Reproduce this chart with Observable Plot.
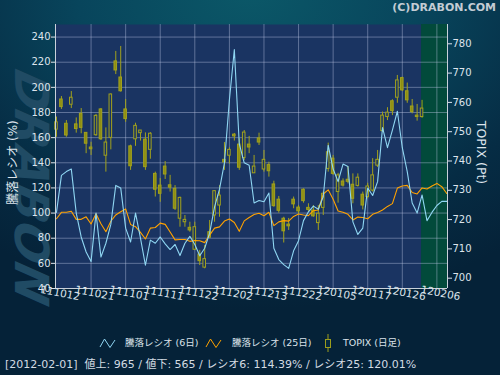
<!DOCTYPE html>
<html><head><meta charset="utf-8">
<script src="https://cdn.jsdelivr.net/npm/d3@7"></script>
<script src="https://cdn.jsdelivr.net/npm/@observablehq/plot@0.6"></script>
<style>
html,body{margin:0;padding:0;}
body{width:500px;height:375px;overflow:hidden;background:#062338;}
#wrap{position:relative;width:500px;height:375px;overflow:hidden;
 background: radial-gradient(ellipse 430px 320px at 250px -10px, #0b5868 0%, #08455c 40%, #062c44 75%, #052238 100%);
 font-family:"DejaVu Sans","Noto Sans CJK JP",sans-serif;color:#dbe3ea;}
#wm{position:absolute;left:31px;top:188px;transform:translate(-50%,-50%) rotate(90deg) skewX(-14deg);
 font:italic bold 47px "DejaVu Sans";color:#204b64;letter-spacing:1px;white-space:nowrap;}
#chart{position:absolute;left:0;top:0;}
#copy{position:absolute;right:4px;top:1px;font:bold 11px "DejaVu Sans";color:#c3ccd4;}
.leg{position:absolute;top:337px;font-size:9.5px;line-height:12px;color:#dbe3ea;white-space:nowrap;font-family:"DejaVu Sans","Noto Sans CJK JP",sans-serif;}
.ico{position:absolute;}
#foot{position:absolute;left:5px;top:358px;font-size:11px;line-height:14px;white-space:pre;color:#d3dbe3;font-family:"DejaVu Sans","Noto Sans CJK JP",sans-serif;}
</style></head>
<body>
<div id="wrap">
 <div id="wm">DRABON</div>
 <div id="chart"></div>
 <div id="copy">(C)DRABON.COM</div>
 <svg class="ico" style="left:99px;top:337px" width="17" height="12"><polyline points="1,10 5.5,2 11,10.5 16,3" fill="none" stroke="#8fd6f2" stroke-width="1"/></svg>
 <div class="leg" style="left:125px">騰落レシオ (6日)</div>
 <svg class="ico" style="left:205px;top:337px" width="17" height="12"><polyline points="1,10 5.5,2 11,10.5 16,3" fill="none" stroke="#ffa200" stroke-width="1"/></svg>
 <div class="leg" style="left:232px">騰落レシオ (25日)</div>
 <svg class="ico" style="left:322px;top:334px" width="12" height="19"><line x1="6" y1="0" x2="6" y2="18" stroke="#9d9d1c"/><rect x="3.5" y="5.5" width="5" height="8" fill="#062a40" stroke="#9d9d1c"/></svg>
 <div class="leg" style="left:343px">TOPIX (日足)</div>
 <div id="foot">[2012-02-01]  値上: 965 / 値下: 565 / レシオ6: 114.39% / レシオ25: 120.01%</div>
</div>
<script>
const leftTicks = [40,60,80,100,120,140,160,180,200,220,240];
const topixTicks = [700,710,720,730,740,750,760,770,780];
const tickIndex = [0,7,14,21,28,35,42,49,56,63,70,77];
const tickLabels = ["111012","111021","111101","111111","111122","111202","111213","111222","120105","120117","120126","120206"];

const topixOpen  = [750.7,761.0,752.7,759.2,752.5,756.1,749.6,744.6,748.8,757.6,741.8,747.9,774.0,768.5,757.6,745.0,747.4,749.5,747.3,743.8,735.6,731.6,738.1,731.7,730.5,720.3,719.1,717.2,709.7,708.1,703.6,715.7,721.4,724.8,740.4,741.8,749.0,745.6,741.0,745.6,735.8,747.7,737.1,738.6,732.0,726.8,720.3,718.3,726.8,724.1,730.2,724.0,723.1,718.8,724.0,737.3,740.8,729.4,733.0,733.6,731.9,731.5,728.5,727.7,729.9,738.4,750.2,755.0,760.4,761.6,768.3,763.8,758.6,755.5,755.0];
const topixHigh  = [755.0,762.0,753.8,763.7,754.7,757.9,749.6,746.4,755.9,757.9,751.3,762.9,777.4,779.1,761.0,745.4,752.9,750.4,749.6,749.7,736.2,734.0,739.8,735.1,731.6,727.7,721.4,719.1,719.1,709.5,711.2,719.7,729.9,731.6,746.3,744.5,749.4,747.6,750.4,748.4,741.9,749.5,743.6,739.6,733.1,727.9,720.8,720.4,727.7,724.8,730.5,725.4,724.8,724.8,729.4,746.1,741.9,735.8,733.9,738.1,735.6,735.6,729.4,732.4,740.8,743.6,756.7,758.2,760.9,769.2,768.6,766.6,761.0,759.3,760.7];
const topixLow   = [748.1,757.6,748.1,757.9,749.5,749.3,742.5,741.9,748.4,747.0,736.2,743.8,769.5,763.5,753.2,736.8,745.0,746.8,736.8,740.6,727.7,725.9,733.7,729.4,723.1,717.4,717.4,715.7,709.5,704.3,703.2,713.5,719.1,720.8,736.8,739.0,746.8,736.8,740.2,742.5,735.8,745.3,736.2,734.5,724.2,722.2,712.0,716.3,723.7,722.0,725.6,722.5,720.8,716.3,721.4,736.2,735.1,725.6,731.1,732.2,725.4,731.1,723.3,727.1,729.4,737.8,749.8,753.8,755.5,759.7,763.7,759.7,756.1,753.6,754.6];
const topixClose = [753.2,758.4,748.7,761.6,750.9,751.3,745.9,744.0,755.4,747.4,746.3,762.7,770.9,763.8,754.3,738.2,752.0,750.4,737.9,749.3,730.2,728.8,735.4,730.9,723.7,727.4,719.9,716.3,717.4,705.8,706.5,713.8,729.7,728.2,739.5,743.8,748.4,737.7,749.7,744.6,738.1,746.3,740.4,736.5,724.6,723.0,716.0,717.7,725.2,722.8,726.3,723.3,721.1,722.0,728.8,743.0,735.6,735.1,731.6,732.9,727.1,734.3,724.8,731.3,735.1,740.4,755.5,756.5,757.0,767.5,764.1,760.7,756.7,755.0,757.9];

const ratio6  = [100.5,130,133,135,100,81,69,61.4,100,65,76,91,122,120,88,77,100,80,58.5,78.5,76,81,75.5,71,75,66.2,76,81.5,75,66,72,84,105,119,140,190,230,155,140,138,108,110,109,116,72,63,59,56,70,78,94,101,105.5,103,113,154,135,125,139,137,93,83,88,120,114,125,168,152,166,181,152,133,108,100,114.4,94,100.5,106,109.3,109.3];
const ratio25 = [95.5,100.6,100.6,101.4,95,95,97,91.3,99.5,91.5,85.2,93.5,98.5,101,103.3,91,89.2,84.7,79.4,88,88.5,92,91,85,78.7,79,79,77.5,78.1,78,76.5,82.5,88,89,93.6,95.3,92.5,85.5,93.8,96.5,98.8,99.8,97.9,100.6,90,93,94,93.6,97.3,99.2,98.5,98,101.9,102.5,115.2,118.5,111,101.6,100.7,99,94.5,96.8,96.5,95.5,99,100.4,102.5,105.3,107.5,119.9,121.5,122,116.4,115.2,120,119.1,121.6,123.6,121,115.6];

const yDomain = [40, 250];
const topixDomain = [696.48, 786.59];
const xDomain = [-0.2, 79.15];
const toLeft = t => yDomain[0] + (t - topixDomain[0]) / (topixDomain[1] - topixDomain[0]) * (yDomain[1] - yDomain[0]);
const fromLeft = v => topixDomain[0] + (v - yDomain[0]) / (yDomain[1] - yDomain[0]) * (topixDomain[1] - topixDomain[0]);

const candles = topixOpen.map((o, i) => ({i, open: o, high: topixHigh[i], low: topixLow[i], close: topixClose[i]}));
const r6 = ratio6.map((v, i) => ({i, v}));
const r25 = ratio25.map((v, i) => ({i, v}));
const xt = tickIndex.map((d, k) => ({d, label: tickLabels[k]}));

const plotBg = "#1a3462", green = "#024a3b", grid = "rgba(190,200,228,0.42)";
const cStroke = "#a2a21c", cFill = "#8e8e14", txt = "#dde4ec", axisLine = "#c9d1da";

const chart = Plot.plot({
  width: 500, height: 310,
  marginTop: 24, marginBottom: 22, marginLeft: 55, marginRight: 53,
  x: {domain: xDomain, axis: null},
  y: {domain: yDomain},
  style: {background: "transparent", color: txt, fontFamily: "DejaVu Sans, Noto Sans CJK JP, sans-serif", fontSize: "10px", overflow: "visible"},
  marks: [
    Plot.frame({fill: plotBg, stroke: "none"}),
    Plot.rect([{s: candles.length - 1.1}], {x1: "s", x2: () => xDomain[1], y1: () => yDomain[0], y2: () => yDomain[1], fill: green}),
    Plot.ruleY(leftTicks.filter(d => d > yDomain[0]), {stroke: grid}),
    Plot.ruleX(tickIndex.filter(d => d > 0), {stroke: grid}),
    Plot.ruleX(candles, {x: "i", y1: d => toLeft(d.low), y2: d => toLeft(d.high), stroke: cStroke}),
    Plot.rect(candles, {x1: d => d.i - 0.26, x2: d => d.i + 0.26, y1: d => toLeft(d.open), y2: d => toLeft(d.close),
      fill: d => d.close < d.open ? cFill : plotBg, stroke: cStroke, strokeWidth: 1}),
    Plot.line(r25, {x: "i", y: "v", stroke: "#ffa200", strokeWidth: 1.1}),
    Plot.line(r6, {x: "i", y: "v", stroke: "#8fd6f2", strokeWidth: 1.1}),
    Plot.ruleX([xDomain[0], xDomain[1]], {stroke: axisLine}),
    Plot.ruleY([yDomain[0]], {stroke: axisLine}),
    Plot.axisY({anchor: "left", ticks: leftTicks, tickSize: 4, tickPadding: 1, label: null, fontSize: 10}),
    Plot.axisY({anchor: "right", ticks: topixTicks.map(toLeft), tickFormat: d => Math.round(fromLeft(d)), tickSize: 4, tickPadding: 1, label: null, fontSize: 10}),
    Plot.text(xt, {x: "d", text: "label", frameAnchor: "bottom", dy: 8, dx: 3, rotate: 11, fontSize: 10.5, fill: txt}),
    Plot.text(["騰落レシオ (%)"], {frameAnchor: "left", textAnchor: "middle", dx: -42, dy: 6, rotate: -90, fontSize: 12, fill: txt}),
    Plot.text(["TOPIX (Pt)"], {frameAnchor: "right", textAnchor: "middle", dx: 33, dy: -4, rotate: 90, fontSize: 12.5, fill: txt})
  ]
});
document.getElementById("chart").appendChild(chart);
</script>
</body></html>
